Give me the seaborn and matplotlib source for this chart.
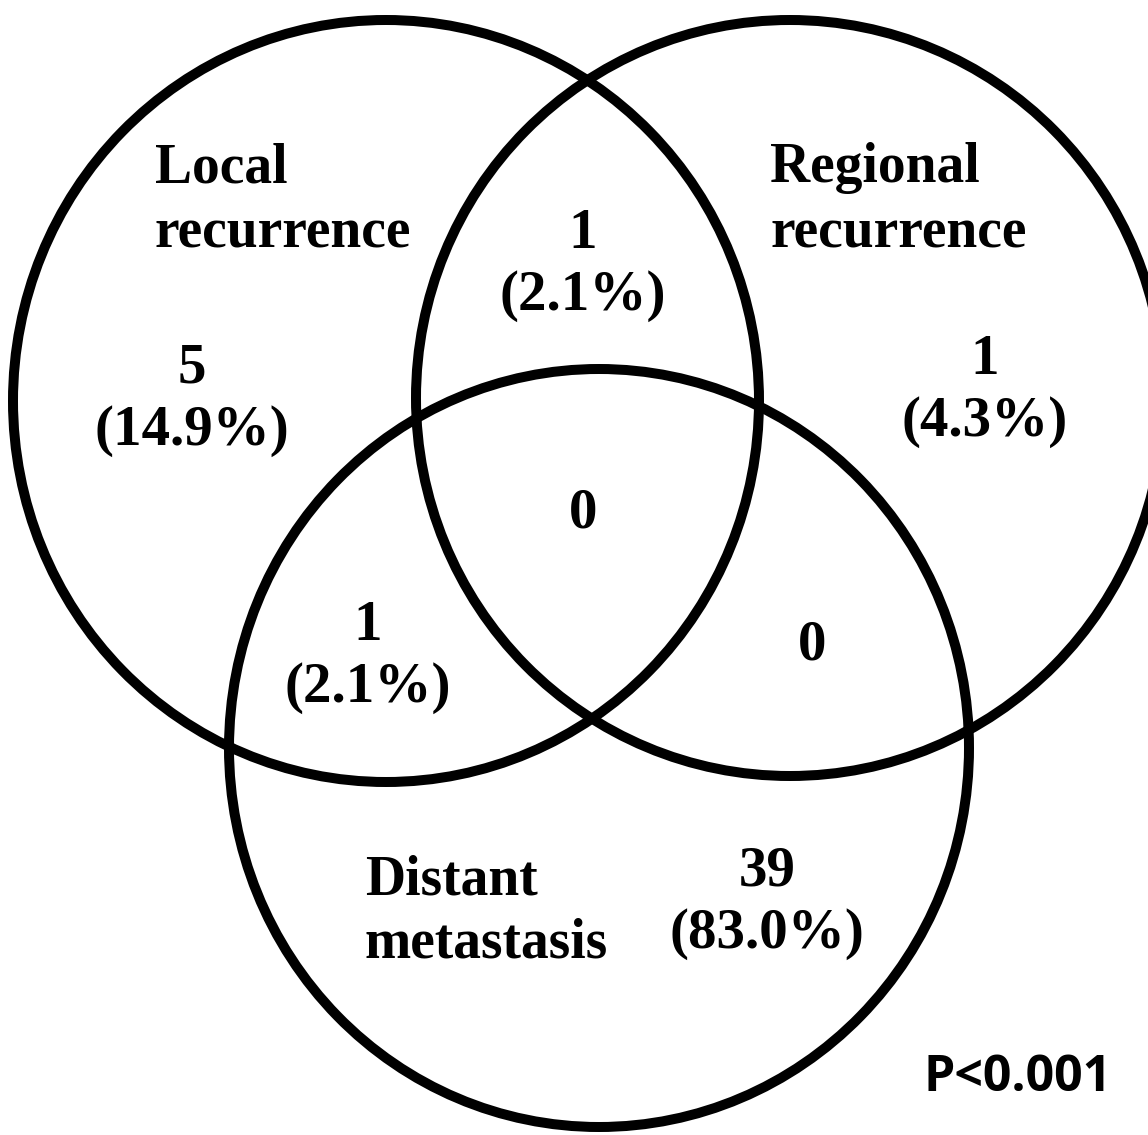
import matplotlib
matplotlib.use("Agg")
import matplotlib.pyplot as plt
from matplotlib.patches import Ellipse
import seaborn as sns

# ---- data ----
set_names = ["Local\nrecurrence", "Regional\nrecurrence", "Distant\nmetastasis"]
region_keys = ["L", "LR", "R", "LRD", "LD", "RD", "D"]
region_counts = [5, 1, 1, 0, 1, 0, 39]
region_pcts = ["14.9%", "2.1%", "4.3%", None, "2.1%", None, "83.0%"]
p_text = "P<0.001"

# ---- layout (pixel coordinates, y downward) ----
W, H = 1148, 1135
circle_geom = [(386, 401, 746, 762), (790, 398, 748, 756), (599, 748, 740, 758)]
name_pos = [(155, 201), (770, 201), (365, 912)]
name_spacing = [1.34, 1.34, 1.27]
region_pos = {"L": (192, 400), "LR": (583, 265), "R": (985, 391), "LRD": (583, 513),
              "LD": (368, 657), "RD": (812, 645), "D": (767, 903)}

sns.set_theme(style="white")
serif = ["Liberation Serif", "DejaVu Serif"]

fig = plt.figure(figsize=(W / 100, H / 100), dpi=100)
ax = fig.add_axes([0, 0, 1, 1])
ax.set_xlim(0, W)
ax.set_ylim(H, 0)
ax.set_axis_off()

for (cx, cy, w, h) in circle_geom:
    ax.add_patch(Ellipse((cx, cy), w, h, fill=False, edgecolor="black", linewidth=7.2))

for name, (x, y), ls in zip(set_names, name_pos, name_spacing):
    ax.text(x, y, name, ha="left", va="center", family=serif, fontweight="bold",
            fontsize=40, linespacing=ls, color="black")

for key, cnt, pct in zip(region_keys, region_counts, region_pcts):
    x, y = region_pos[key]
    label = f"{cnt}" if pct is None else f"{cnt}\n({pct})"
    ax.text(x, y, label, ha="center", va="center", family=serif, fontweight="bold",
            fontsize=41, linespacing=1.26, color="black", multialignment="center")

ax.text(1112, 1078, p_text, ha="right", va="center",
        family=["Open Sans", "Roboto", "DejaVu Sans"],
        fontweight="bold", fontsize=36, color="black")

fig.savefig("out.png", dpi=100, facecolor="white")
